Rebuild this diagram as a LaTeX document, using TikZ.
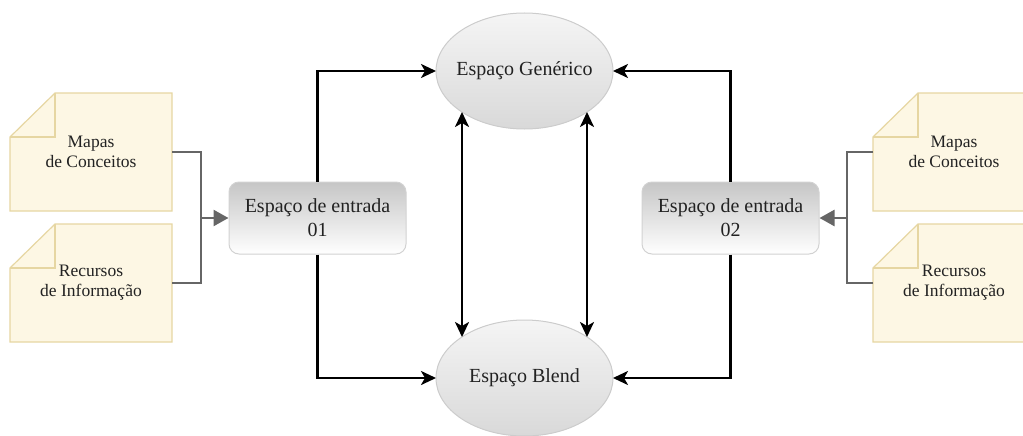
\documentclass[tikz,border=0pt]{standalone}
\usepackage{fontspec}
\setmainfont{Liberation Serif}
\usetikzlibrary{arrows.meta,shapes.geometric,calc}
\definecolor{notefill}{HTML}{FDF7E4}
\definecolor{noteline}{HTML}{E6D6A2}
\definecolor{conn}{HTML}{666666}
\definecolor{txt}{HTML}{222222}
\tikzset{
  note/.style={rectangle, minimum width=162pt, minimum height=118pt, inner sep=0pt, outer sep=0pt,
    text=txt, align=center, font=\fontsize{17.5}{20}\selectfont},
  noteshape/.style={fill=notefill, draw=noteline, line width=1.2pt, line join=miter},
  entry/.style={rectangle, rounded corners=10pt, minimum width=177pt, minimum height=72pt,
    top color=gray!45, bottom color=white, draw=gray!35, line width=1pt, text=txt,
    align=center, font=\fontsize{20}{24}\selectfont, inner sep=0pt},
  space/.style={ellipse, minimum width=177pt, minimum height=116pt, inner xsep=-12pt, inner ysep=0pt, outer sep=0pt,
    top color=gray!8, bottom color=gray!30, draw=gray!40, line width=1pt, text=txt,
    font=\fontsize{20}{24}\selectfont},
  tipk/.tip={Stealth[length=15pt,width=14pt,inset=4pt]},
  blk/.style={line width=2.5pt, black, -tipk},
  dbl/.style={line width=2.5pt, black, tipk-tipk, shorten <=41pt, shorten >=41pt},
  gry/.style={line width=2.5pt, conn},
  gryarr/.style={line width=2.5pt, conn, -{Triangle[length=15pt,width=16pt]}},
}
\begin{document}
\begin{tikzpicture}[x=1pt,y=-1pt]
\useasboundingbox (0,0) rectangle (1023,436);
\begin{scope}
\clip (0,0) rectangle (1023,436);
% notes
\node[note] (m1) at (91,152) {};
\node[note] (r1) at (91,283) {};
\node[note] (m2) at (954,152) {};
\node[note] (r2) at (954,283) {};
\foreach \n in {m1,r1,m2,r2}{
  \path[noteshape] ($(\n.north west)+(0,44)$) -- ($(\n.north west)+(45,0)$) -- (\n.north east)
     -- (\n.south east) -- (\n.south west) -- cycle;
  \draw[noteline, line width=1.2pt] ($(\n.north west)+(45,0)$) -- ++(0,44) -- ($(\n.north west)+(0,44)$);
}
\node[note] at (m1) {Mapas\\de Conceitos};
\node[note] at (r1) {Recursos\\de Informação};
\node[note] at (m2) {Mapas\\de Conceitos};
\node[note] at (r2) {Recursos\\de Informação};
\end{scope}
% entry boxes
\node[entry] (b1) at (317.5,218) {Espaço de entrada\\01};
\node[entry] (b2) at (730.5,218) {Espaço de entrada\\02};
% spaces
\node[space] (gen) at (524.5,71) {Espaço Genérico};
\node[space] (bl) at (524.5,378) {Espaço Blend};
% junctions
\coordinate (jl) at (201,218);
\coordinate (jr) at (847,218);
\draw[gry] (m1.east) -| (jl);
\draw[gry] (r1.east) -| (jl);
\draw[gryarr] (jl) -- (b1.west);
\draw[gry] (m2.west) -| (jr);
\draw[gry] (r2.west) -| (jr);
\draw[gryarr] (jr) -- (b2.east);
% black arrows
\draw[blk] (b1.north) |- (gen.west);
\draw[blk] (b1.south) |- (bl.west);
\draw[blk] (b2.north) |- (gen.east);
\draw[blk] (b2.south) |- (bl.east);
\draw[dbl] ($(gen.center)+(-62.5,0)$) -- ($(bl.center)+(-62.5,0)$);
\draw[dbl] ($(gen.center)+(62.5,0)$) -- ($(bl.center)+(62.5,0)$);
\end{tikzpicture}
\end{document}
